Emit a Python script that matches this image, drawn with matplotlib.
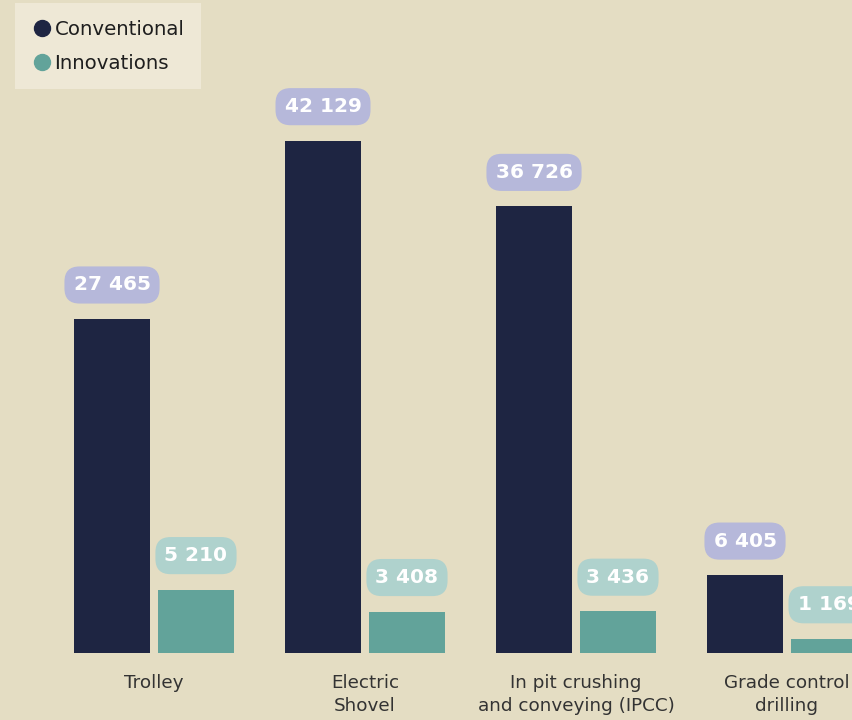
import matplotlib.pyplot as plt
from matplotlib.lines import Line2D
import numpy as np

categories = ['Trolley', 'Electric\nShovel', 'In pit crushing\nand conveying (IPCC)', 'Grade control\ndrilling']
conventional = [27465, 42129, 36726, 6405]
innovations = [5210, 3408, 3436, 1169]

BG = '#E4DDC3'
NAVY = '#1E2542'
TEAL = '#62A39A'
NAVY_BOX = '#B6B8DA'
TEAL_BOX = '#AFD2CD'


def fmt(v):
    return f'{v:,}'.replace(',', ' ')


fig = plt.figure(figsize=(8.52, 7.2), dpi=100, facecolor=BG)
ax = fig.add_axes([0, 67 / 720, 1, 653 / 720])
ax.set_facecolor(BG)

x = np.arange(len(categories))
width = 0.36
off = 0.199

b1 = ax.bar(x - off, conventional, width, color=NAVY)
b2 = ax.bar(x + off, innovations, width, color=TEAL)

for bars, vals, box in [(b1, conventional, NAVY_BOX), (b2, innovations, TEAL_BOX)]:
    for r, v in zip(bars, vals):
        ax.annotate(fmt(v), (r.get_x() + r.get_width() / 2, v),
                    xytext=(0, 24.5), textcoords='offset points',
                    ha='center', va='center', fontsize=14.5, fontweight='bold',
                    color='white',
                    bbox=dict(boxstyle='round,pad=0.45,rounding_size=0.75',
                              fc=box, ec='none'))

ax.set_xlim(-154 / 211, (852 - 154) / 211)
ax.set_ylim(0, 53700)
ax.set_xticks(x)
ax.set_xticklabels(categories, fontsize=13.2, color='#333333', linespacing=1.4)
ax.tick_params(axis='x', length=0, pad=15)
ax.set_yticks([])
for s in ax.spines.values():
    s.set_visible(False)

handles = [Line2D([], [], marker='o', ls='none', ms=11.5, color=NAVY, label='Conventional'),
           Line2D([], [], marker='o', ls='none', ms=11.5, color=TEAL, label='Innovations')]
leg = fig.legend(handles=handles, loc='upper left', bbox_to_anchor=(15 / 852, 1 - 3 / 720),
                 frameon=True, fancybox=False, facecolor='#EEE8D6', edgecolor='none',
                 framealpha=1, fontsize=14.2, handletextpad=0.15, handlelength=1.0,
                 borderpad=0.85, labelspacing=0.75, borderaxespad=0)
for t in leg.get_texts():
    t.set_color('#1E1E1E')

fig.savefig('out.png', dpi=100, facecolor=BG)
